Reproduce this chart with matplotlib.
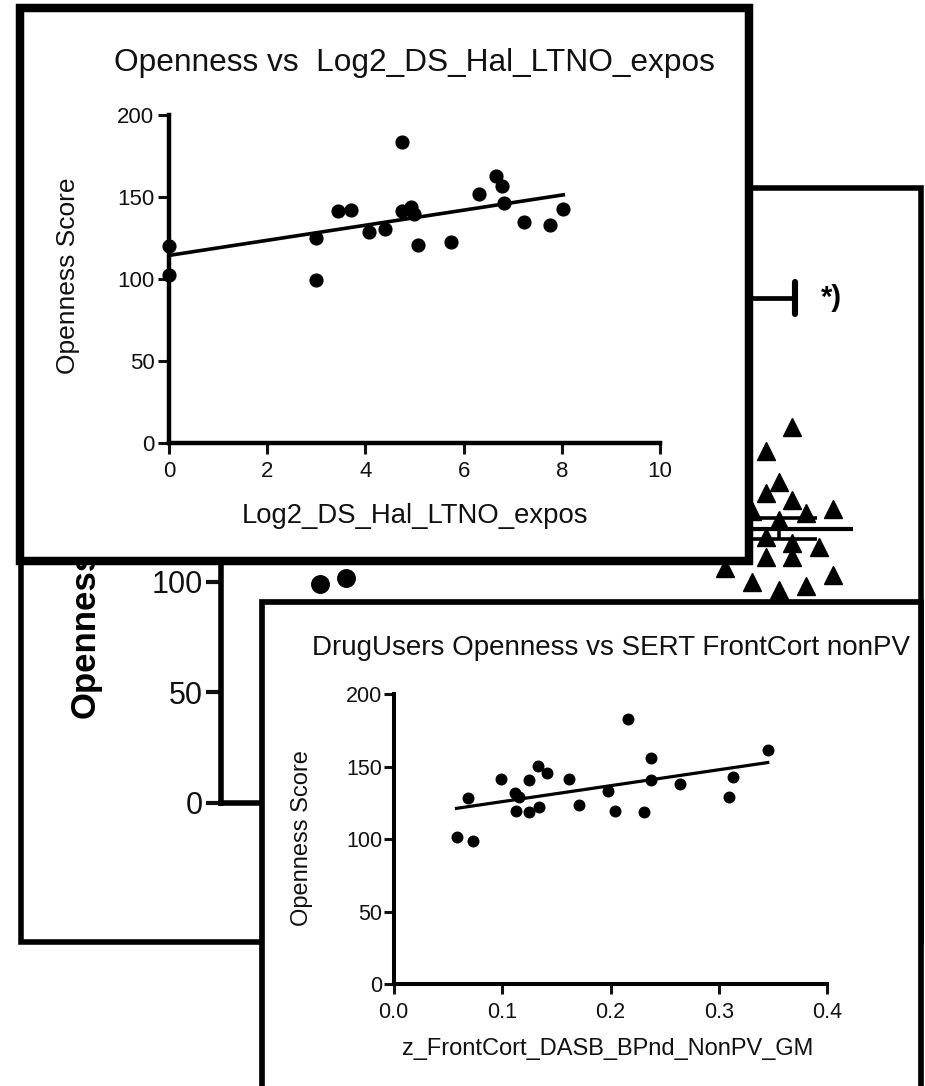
import numpy as np
import matplotlib
matplotlib.use("Agg")
import matplotlib.pyplot as plt
from matplotlib.patches import Rectangle
from matplotlib.transforms import Affine2D
from matplotlib.ticker import FormatStrFormatter

plt.rcParams["font.family"] = ["Liberation Sans", "DejaVu Sans"]

W, H = 925, 1086

# top inset: Openness vs Log2_DS_Hal_LTNO_expos
hal_x = [0.0, 0.0, 2.99, 2.99, 3.45, 3.70, 4.08, 4.40, 4.75, 4.74, 4.92,
         4.98, 5.08, 5.74, 6.31, 6.67, 6.79, 6.83, 7.24, 7.76, 8.03]
hal_y = [120.3, 102.4, 124.7, 99.3, 141.6, 142.1, 128.6, 130.3, 183.6, 141.6, 143.8,
         139.5, 120.7, 122.6, 151.6, 162.8, 156.7, 146.5, 134.6, 132.9, 142.5]

# bottom inset: DrugUsers Openness vs SERT FrontCort nonPV
sert_x = [0.058, 0.0735, 0.0685, 0.099, 0.1115, 0.116, 0.1127, 0.125, 0.125, 0.133,
          0.1416, 0.1338, 0.1615, 0.171, 0.198, 0.2046, 0.216, 0.2308, 0.2375, 0.2375,
          0.264, 0.309, 0.313, 0.345]
sert_y = [101.7, 99.0, 128.2, 141.6, 132.1, 129.4, 119.7, 140.9, 119.0, 150.8,
          145.5, 122.0, 141.6, 123.6, 133.3, 119.7, 183.0, 118.6, 155.9, 140.9,
          137.9, 129.4, 142.7, 161.6]

# background dot plot: drug users (circles, same scores) vs controls (triangles)
ctrl_vals = [170, 159, 145, 140, 137, 131, 133, 132, 128, 120,
             117.6, 115.8, 111, 111, 106, 100, 96, 98, 103]
ctrl_slot = [1, -1, 0, -1, 1, 2, 4, -2, 0, -1,
             1, 3, -1, 1, -4, -2, 0, 2, 4]
bg_ticks = [0, 50, 100]  # higher ones sit under the top inset
star_level = 228

fig = plt.figure(figsize=(W / 100, H / 100), dpi=100)
PX = Affine2D().scale(1 / W, -1 / H).translate(0, 1) + fig.transFigure


def rect(x0, y0, x1, y1):
    return [x0 / W, 1 - y1 / H, (x1 - x0) / W, (y1 - y0) / H]


def frame(x0, y0, x1, y1, lw):
    ax = fig.add_axes(rect(x0, y0, x1, y1))
    ax.axis("off")
    ax.add_patch(Rectangle((0, 0), 1, 1, transform=ax.transAxes, facecolor="white",
                           edgecolor="black", lw=lw, clip_on=False, joinstyle="miter"))
    return ax


def style(ax, lw, ticklen, tickw, size, pad):
    ax.patch.set_visible(False)
    for s in ("top", "right"):
        ax.spines[s].set_visible(False)
    for s in ("left", "bottom"):
        ax.spines[s].set_linewidth(lw)
    ax.tick_params(direction="out", length=ticklen, width=tickw, labelsize=size,
                   pad=pad, colors="#111111")


def swarm_slots(vals, gap=8.0):
    vals = np.asarray(vals)
    slots = np.zeros(len(vals))
    rows, row = [], []
    for i in np.argsort(vals):
        if row and vals[i] - vals[row[0]] >= gap:
            rows.append(row)
            row = []
        row.append(i)
    rows.append(row)
    for r in rows:
        for i, k in zip(r, np.arange(len(r)) * 2 - (len(r) - 1)):
            slots[i] = k
    return slots


def mean_sem(ax, x, vals):
    vals = np.asarray(vals)
    m = vals.mean()
    sem = vals.std(ddof=1) / np.sqrt(len(vals))
    ax.hlines(m, x - 0.166, x + 0.166, color="black", lw=3)
    ax.hlines([m - sem, m + sem], x - 0.085, x + 0.085, color="black", lw=2.6)
    ax.vlines(x, m - sem, m + sem, color="black", lw=2.6)


# ---------------------------------------------------------------------------
# background: group comparison
# ---------------------------------------------------------------------------
frame(21.2, 187.5, 920.5, 942, 4)
bg = fig.add_axes(rect(221, 249.5, 900, 803))
style(bg, 4, 11, 3, 22, 2)
slot_w = 13.4 / 446
bg.set_xlim((221 - 333) / 446, (900 - 333) / 446)
bg.set_ylim(0, 250)
bg.set_xticks([])
bg.set_yticks(bg_ticks)
bg.plot(swarm_slots(sert_y) * slot_w, sert_y, "o", ms=12.6, color="black", clip_on=False)
bg.plot(1 + np.array(ctrl_slot) * slot_w, ctrl_vals, "^", ms=13, color="black",
        clip_on=False)
mean_sem(bg, 0, sert_y)
mean_sem(bg, 1, ctrl_vals)
bg.plot([0, 1.036], [star_level, star_level], color="black", lw=3.4)
bg.plot([1.036, 1.036], [star_level - 7.2, star_level + 7.2], color="black", lw=4.4,
        solid_capstyle="round")
bg.text(1.094, star_level, "*)", fontsize=21, fontweight="bold", va="center", ha="left")
bg.text(85, 718, "Openness", transform=PX, rotation=90, ha="center", va="bottom",
        fontsize=25, fontweight="bold")

# ---------------------------------------------------------------------------
# top inset
# ---------------------------------------------------------------------------
frame(20, 8.3, 748.5, 561, 6.1)
top = fig.add_axes(rect(169, 115, 660, 443))
style(top, 3.2, 8, 2.2, 16, 2.5)
top.set_xlim(0, 10)
top.set_ylim(0, 200)
top.set_xticks(range(0, 11, 2))
top.set_yticks(range(0, 201, 50))
top.tick_params(axis="x", pad=5)
top.plot(hal_x, hal_y, "o", ms=9.2, color="black", clip_on=False)
k, b = np.polyfit(hal_x, hal_y, 1)
xs = np.array([min(hal_x), max(hal_x)])
top.plot(xs, k * xs + b, color="black", lw=2.6, clip_on=False)
top.text(414.5, 71.4, "Openness vs  Log2_DS_Hal_LTNO_expos", transform=PX,
         ha="center", va="baseline", fontsize=22.8, color="#111111")
top.text(414.5, 523, "Log2_DS_Hal_LTNO_expos", transform=PX, ha="center",
         va="baseline", fontsize=19.8, color="#111111")
top.text(68, 276, "Openness Score", transform=PX, rotation=90, ha="center",
         va="center", fontsize=19, color="#111111")

# ---------------------------------------------------------------------------
# bottom inset
# ---------------------------------------------------------------------------
frame(262.2, 602.2, 921, 1100, 4.1)
bot = fig.add_axes(rect(393.6, 694.3, 827.4, 984))
style(bot, 2.9, 7, 2.2, 15.5, 1)
bot.set_xlim(0, 0.4)
bot.set_ylim(0, 200)
bot.set_xticks([0, 0.1, 0.2, 0.3, 0.4])
bot.set_yticks(range(0, 201, 50))
bot.xaxis.set_major_formatter(FormatStrFormatter("%.1f"))
bot.tick_params(axis="x", pad=6)
bot.plot(sert_x, sert_y, "o", ms=7.6, color="black", clip_on=False)
k, b = np.polyfit(sert_x, sert_y, 1)
xs = np.array([min(sert_x), max(sert_x)])
bot.plot(xs, k * xs + b, color="black", lw=2.3, clip_on=False)
bot.text(610.5, 655, "DrugUsers Openness vs SERT FrontCort nonPV", transform=PX,
         ha="center", va="baseline", fontsize=20, color="#111111")
bot.text(608, 1055, "z_FrontCort_DASB_BPnd_NonPV_GM", transform=PX, ha="center",
         va="baseline", fontsize=17, color="#111111")
bot.text(302.4, 838.3, "Openness Score", transform=PX, rotation=90, ha="center",
         va="center", fontsize=17, color="#111111")

fig.savefig("out.png", dpi=100)
